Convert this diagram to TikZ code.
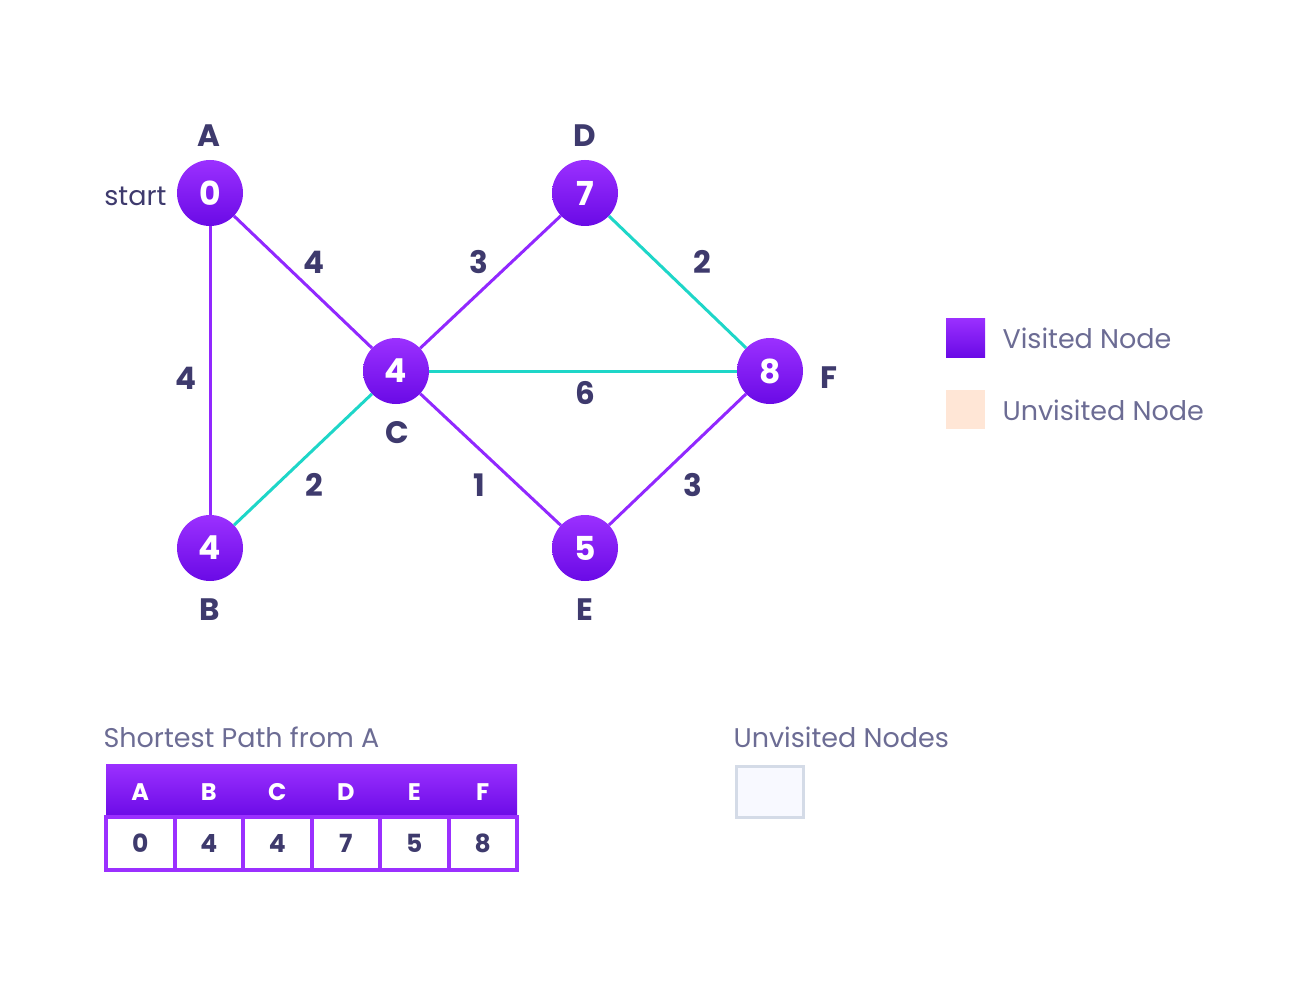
\documentclass[tikz,border=0pt]{standalone}
\usepackage{fontspec}
\setmainfont{Poppins}
\usetikzlibrary{positioning}

\definecolor{vtop}{HTML}{9B30FF}
\definecolor{vbot}{HTML}{6A0AE6}
\definecolor{pedge}{HTML}{9128FF}
\definecolor{tedge}{HTML}{1ED6C8}
\definecolor{ink}{HTML}{3E3A6D}
\definecolor{soft}{HTML}{6C6C94}
\definecolor{peach}{HTML}{FFE6D6}
\definecolor{pale}{HTML}{F8F9FF}
\definecolor{paleline}{HTML}{D4DBE7}

\tikzset{
  vnode/.style={circle, minimum size=66pt, inner sep=0pt, top color=vtop, bottom color=vbot,
    text=white, font=\fontsize{33}{33}\selectfont\bfseries},
  vname/.style={text=ink, font=\fontsize{31}{31}\selectfont\bfseries},
  wlabel/.style={text=ink, font=\fontsize{31}{31}\selectfont\bfseries},
  pline/.style={draw=pedge, line width=3pt},
  tline/.style={draw=tedge, line width=3pt},
  softtxt/.style={text=soft, font=\fontsize{27}{27}\selectfont},
  headtxt/.style={text=white, font=\fontsize{24}{24}\selectfont\bfseries},
  valcell/.style={draw=vtop, line width=4pt, fill=white, minimum width=68.5pt, minimum height=53pt,
    inner sep=0pt, text=ink, font=\fontsize{25}{25}\selectfont\bfseries},
}

\begin{document}
\begin{tikzpicture}[x=1pt,y=-1pt]
\useasboundingbox (0,0) rectangle (1308,984);

% graph
\node[vnode] (A) at (210,193) {0};
\node[vnode] (D) at (585,193) {7};
\node[vnode] (C) at (396,371) {4};
\node[vnode] (F) at (770,371) {8};
\node[vnode] (B) at (210,548) {4};
\node[vnode] (E) at (585,548) {5};

\draw[pline] (A) -- (B);
\draw[pline] (A) -- (C);
\draw[pline] (C) -- (D);
\draw[tline] (D) -- (F);
\draw[tline] (C) -- (F);
\draw[tline] (B) -- (C);
\draw[pline] (C) -- (E);
\draw[pline] (E) -- (F);

\node[vname] (nA) at (209,136) {A};
\node[vname] (nD) at (585,136) {D};
\node[vname] (nC) at (397,433) {C};
\node[vname] (nF) at (829,378) {F};
\node[vname] (nB) at (210,610) {B};
\node[vname] (nE) at (585,610) {E};
\node[text=ink, font=\fontsize{27}{27}\selectfont, anchor=east] (st) at (170,196) {start};

\node[wlabel] (wAC) at (314,262) {4};
\node[wlabel] (wAB) at (186,378) {4};
\node[wlabel] (wCD) at (479,262) {3};
\node[wlabel] (wDF) at (702,262) {2};
\node[wlabel] (wCF) at (585,393) {6};
\node[wlabel] (wBC) at (314,485) {2};
\node[wlabel] (wCE) at (479,485) {1};
\node[wlabel] (wEF) at (693,485) {3};

% legend
\shade[top color=vtop, bottom color=vbot] (946,318) rectangle (985,357);
\fill[peach] (946,390) rectangle (985,429);
\node[softtxt, anchor=west] (lv) at (999,338) {Visited Node};
\node[softtxt, anchor=west] (lu) at (999,410) {Unvisited Node};

% shortest path table
\node[softtxt, anchor=west] (tt) at (100,737) {Shortest Path from A};
\shade[top color=vtop, bottom color=vbot] (106,764) rectangle (517,818);
\foreach \n/\v [count=\i from 0] in {A/0,B/4,C/4,D/7,E/5,F/8} {
  \node[headtxt] (h\n) at ({140.25+68.5*\i},792) {\n};
  \node[valcell] (v\n) at ({140.25+68.5*\i},843.5) {\v};
}

% unvisited nodes
\node[softtxt, anchor=west] (ut) at (730,737) {Unvisited Nodes};
\draw[paleline, fill=pale, line width=3.5pt] (736.5,766.5) rectangle (803.5,817.5);
\end{tikzpicture}
\end{document}
